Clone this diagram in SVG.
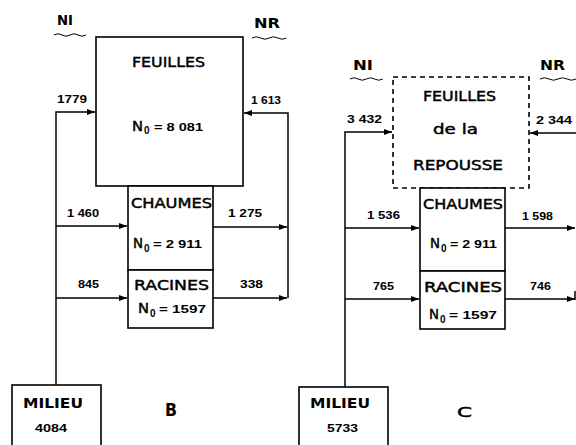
<svg xmlns="http://www.w3.org/2000/svg" width="576" height="445" viewBox="0 0 576 445">
<style>
.box{fill:#fff;stroke:#000;stroke-width:1.6}
.dash{stroke-dasharray:5 4}
.ln{stroke:#000;stroke-width:1.5;fill:none}
.wv{stroke:#000;stroke-width:1;fill:none}
.t{font-family:"DejaVu Sans","Liberation Sans",sans-serif;font-size:14px;fill:#000;stroke:#000;stroke-width:0.45}
.tb{font-family:"DejaVu Sans","Liberation Sans",sans-serif;font-size:14px;font-weight:bold;fill:#000}
.n{font-family:"Liberation Sans",Arial,sans-serif;font-weight:bold;font-size:11.5px;fill:#000}
.s{font-family:"Liberation Sans",Arial,sans-serif;font-weight:bold;font-size:10px;fill:#000}
.big{font-family:"DejaVu Sans","Liberation Sans",sans-serif;font-weight:bold;font-size:18px;fill:#000}
</style>
<defs>
<marker id="ah" markerUnits="userSpaceOnUse" markerWidth="9" markerHeight="7" refX="8" refY="3" orient="auto">
<path d="M0,0 L8,3 L0,6 z" fill="#000"/>
</marker>
</defs>
<rect width="576" height="445" fill="#fff"/>

<g id="connectors">
<!-- Panel B -->
<path class="ln" d="M56,385 V112 H95" marker-end="url(#ah)"/>
<path class="ln" d="M56,226 H127" marker-end="url(#ah)"/>
<path class="ln" d="M56,298 H127" marker-end="url(#ah)"/>
<path class="ln" d="M288,298 V113 H244" marker-end="url(#ah)"/>
<path class="ln" d="M213,227 H287" marker-end="url(#ah)"/>
<path class="ln" d="M213,298 H287" marker-end="url(#ah)"/>
<!-- Panel C -->
<path class="ln" d="M345,387 V132 H392" marker-end="url(#ah)"/>
<path class="ln" d="M345,228 H419" marker-end="url(#ah)"/>
<path class="ln" d="M345,299 H419" marker-end="url(#ah)"/>
<path class="ln" d="M576,133 H530" marker-end="url(#ah)"/>
<path class="ln" d="M505,228 H575" marker-end="url(#ah)"/>
<path class="ln" d="M505,299 H575" marker-end="url(#ah)"/>
<path class="ln" d="M575,291 V300"/>
</g>

<g id="labels-B">
<text class="tb" x="57" y="25" textLength="16" lengthAdjust="spacingAndGlyphs">NI</text>
<path class="wv" d="M54,35 q4,-2.5 8,0 t8,0 t8,0 t8,0"/>
<text class="tb" x="254" y="28" textLength="26" lengthAdjust="spacingAndGlyphs">NR</text>
<path class="wv" d="M252,38 q4.3,-2.5 8.6,0 t8.6,0 t8.6,0 t8.6,0"/>
<text class="n" x="57" y="103" textLength="30" lengthAdjust="spacingAndGlyphs">1779</text>
<text class="n" x="251" y="104" textLength="30" lengthAdjust="spacingAndGlyphs">1 613</text>
<text class="n" x="67" y="217" textLength="32" lengthAdjust="spacingAndGlyphs">1 460</text>
<text class="n" x="228" y="217" textLength="34" lengthAdjust="spacingAndGlyphs">1 275</text>
<text class="n" x="78" y="288" textLength="21" lengthAdjust="spacingAndGlyphs">845</text>
<text class="n" x="240" y="288" textLength="23" lengthAdjust="spacingAndGlyphs">338</text>
<text class="big" x="165" y="416" textLength="12" lengthAdjust="spacingAndGlyphs">B</text>
</g>

<g id="feuilles-B">
<rect class="box" x="96" y="37" width="147" height="149"/>
<text class="t" x="132" y="67" textLength="73" lengthAdjust="spacingAndGlyphs">FEUILLES</text>
<text class="t" x="132" y="131" font-size="16" textLength="11" lengthAdjust="spacingAndGlyphs">N</text>
<text class="s" x="144" y="134">0</text>
<text class="n" x="154" y="131" textLength="49" lengthAdjust="spacingAndGlyphs">= 8 081</text>
</g>

<g id="chaumes-B">
<rect class="box" x="128" y="186" width="85" height="84"/>
<text class="t" x="131" y="208" textLength="81" lengthAdjust="spacingAndGlyphs">CHAUMES</text>
<text class="t" x="133" y="248" font-size="15" textLength="10" lengthAdjust="spacingAndGlyphs">N</text>
<text class="s" x="144" y="252">0</text>
<text class="n" x="153" y="248" textLength="49" lengthAdjust="spacingAndGlyphs">= 2 911</text>
</g>

<g id="racines-B">
<rect class="box" x="128" y="270" width="85" height="58"/>
<text class="t" x="134" y="290" textLength="75" lengthAdjust="spacingAndGlyphs">RACINES</text>
<text class="t" x="138" y="313" font-size="15" textLength="11" lengthAdjust="spacingAndGlyphs">N</text>
<text class="s" x="150" y="317">0</text>
<text class="n" x="159" y="313" textLength="47" lengthAdjust="spacingAndGlyphs">= 1597</text>
</g>

<g id="milieu-B">
<rect class="box" x="12" y="385" width="89" height="70"/>
<text class="tb" x="23" y="408" textLength="60" lengthAdjust="spacingAndGlyphs">MILIEU</text>
<text class="n" x="35" y="432" textLength="32" lengthAdjust="spacingAndGlyphs">4084</text>
</g>

<g id="labels-C">
<text class="tb" x="353" y="70" textLength="20" lengthAdjust="spacingAndGlyphs">NI</text>
<path class="wv" d="M350,79 q4.1,-2.5 8.2,0 t8.2,0 t8.2,0 t8.2,0"/>
<text class="tb" x="540" y="70" textLength="25" lengthAdjust="spacingAndGlyphs">NR</text>
<path class="wv" d="M540,79 q4.5,-2.5 9,0 t9,0 t9,0 t9,0"/>
<text class="n" x="347" y="123" textLength="35" lengthAdjust="spacingAndGlyphs">3 432</text>
<text class="n" x="536" y="124" textLength="36" lengthAdjust="spacingAndGlyphs">2 344</text>
<text class="n" x="367" y="219" textLength="33" lengthAdjust="spacingAndGlyphs">1 536</text>
<text class="n" x="522" y="220" textLength="31" lengthAdjust="spacingAndGlyphs">1 598</text>
<text class="n" x="373" y="290" textLength="21" lengthAdjust="spacingAndGlyphs">765</text>
<text class="n" x="530" y="290" textLength="21" lengthAdjust="spacingAndGlyphs">746</text>
<text class="t" x="457" y="417" font-size="18" textLength="15" lengthAdjust="spacingAndGlyphs">C</text>
</g>

<g id="feuilles-repousse-C">
<rect class="box dash" x="393" y="77" width="136" height="111"/>
<text class="t" x="423" y="101" textLength="73" lengthAdjust="spacingAndGlyphs">FEUILLES</text>
<text class="t" x="433" y="134" textLength="45" lengthAdjust="spacingAndGlyphs">de  la</text>
<text class="t" x="413" y="170" textLength="90" lengthAdjust="spacingAndGlyphs">REPOUSSE</text>
</g>

<g id="chaumes-C">
<rect class="box" x="420" y="188" width="85" height="83"/>
<text class="t" x="423" y="209" textLength="80" lengthAdjust="spacingAndGlyphs">CHAUMES</text>
<text class="t" x="430" y="248" font-size="15" textLength="10" lengthAdjust="spacingAndGlyphs">N</text>
<text class="s" x="441" y="252">0</text>
<text class="n" x="450" y="248" textLength="47" lengthAdjust="spacingAndGlyphs">= 2 911</text>
</g>

<g id="racines-C">
<rect class="box" x="420" y="271" width="85" height="58"/>
<text class="t" x="424" y="292" textLength="78" lengthAdjust="spacingAndGlyphs">RACINES</text>
<text class="t" x="429" y="319" font-size="15" textLength="10" lengthAdjust="spacingAndGlyphs">N</text>
<text class="s" x="440" y="323">0</text>
<text class="n" x="449" y="319" textLength="48" lengthAdjust="spacingAndGlyphs">= 1597</text>
</g>

<g id="milieu-C">
<rect class="box" x="299" y="387" width="89" height="70"/>
<text class="tb" x="310" y="408" textLength="60" lengthAdjust="spacingAndGlyphs">MILIEU</text>
<text class="n" x="327" y="432" textLength="31" lengthAdjust="spacingAndGlyphs">5733</text>
</g>
</svg>
